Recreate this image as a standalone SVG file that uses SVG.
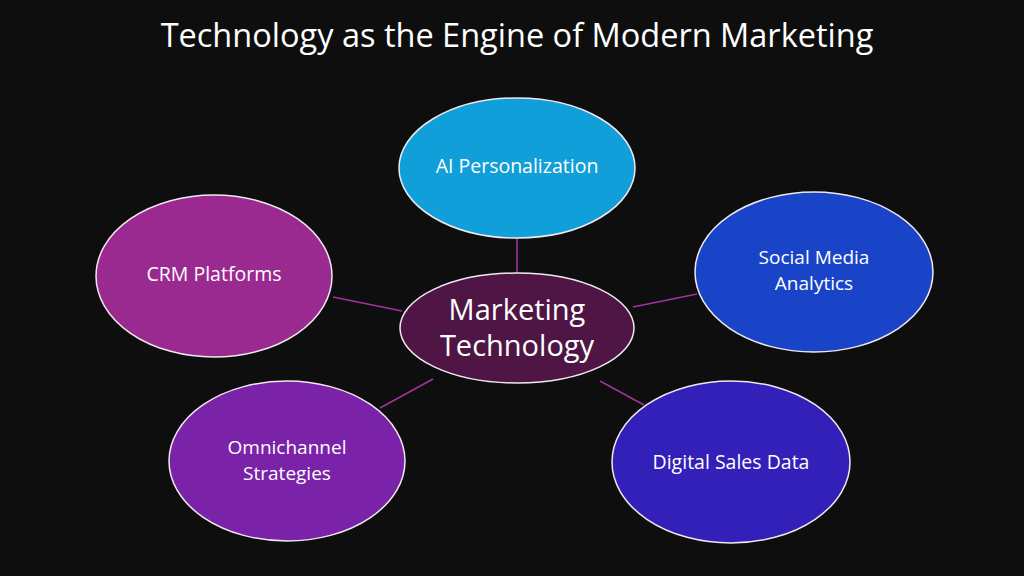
<svg xmlns="http://www.w3.org/2000/svg" width="1024" height="576" viewBox="0 0 1024 576">
<style>
.n{stroke:#f0e8f0;stroke-width:1.5}
.t{font-family:"Open Sans","Liberation Sans",sans-serif;fill:#ffffff;text-anchor:middle}
.l{font-size:19.5px}
.m{font-size:19px}
.c line{stroke:#a3329c;stroke-width:1.6}
</style>
<rect width="1024" height="576" fill="#0e0e0e"/>
<text class="t" x="517" y="47" font-size="32.5">Technology as the Engine of Modern Marketing</text>
<g class="c" id="connectors">
<line x1="517" y1="238" x2="517" y2="273"/>
<line x1="333" y1="297" x2="402" y2="311"/>
<line x1="633" y1="307" x2="697" y2="294"/>
<line x1="380" y1="408" x2="433" y2="379"/>
<line x1="600" y1="381" x2="644" y2="405"/>
</g>
<g id="ai"><ellipse class="n" cx="517" cy="168" rx="118" ry="70" fill="#109fd8"/><text class="t l" x="517" y="173">AI Personalization</text></g>
<g id="crm"><ellipse class="n" cx="214" cy="276" rx="118" ry="81" fill="#9b2a90"/><text class="t l" x="214" y="281">CRM Platforms</text></g>
<g id="social"><ellipse class="n" cx="814" cy="272" rx="119" ry="80" fill="#1a44c8"/><text class="t m" x="814" y="264">Social Media</text><text class="t m" x="814" y="290">Analytics</text></g>
<g id="omni"><ellipse class="n" cx="287" cy="461" rx="118" ry="80" fill="#7a22a8"/><text class="t m" x="287" y="454">Omnichannel</text><text class="t m" x="287" y="480">Strategies</text></g>
<g id="digital"><ellipse class="n" cx="731" cy="462" rx="119" ry="81" fill="#3320b8"/><text class="t l" x="731" y="469">Digital Sales Data</text></g>
<g id="center"><ellipse class="n" cx="517" cy="328" rx="117" ry="55" fill="#4e1545"/><text class="t" x="517" y="320" font-size="29">Marketing</text><text class="t" x="517" y="356" font-size="29">Technology</text></g>
</svg>
